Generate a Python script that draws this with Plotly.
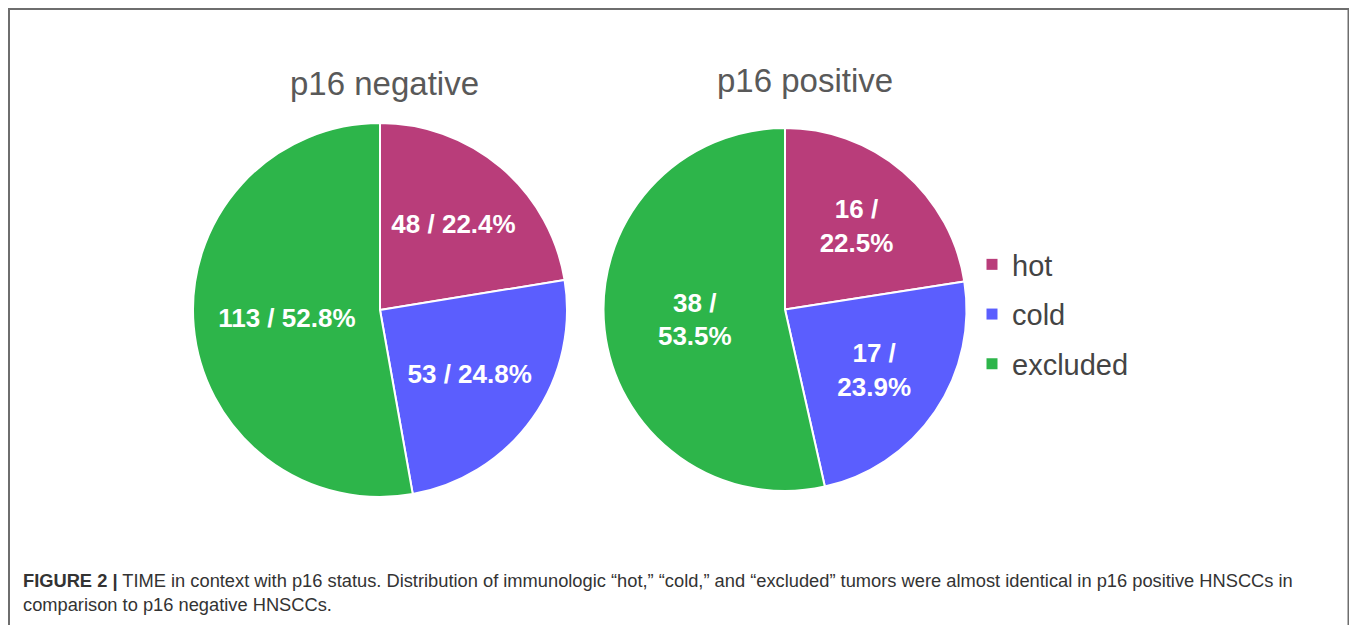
import plotly.graph_objects as go

# page has 8px body margin; coordinates below are given in screen pixels
OFF = 8
W, H = 1349, 617

categories = ["hot", "cold", "excluded"]
p16_negative = [48, 53, 113]
p16_positive = [16, 17, 38]
titles = ["p16 negative", "p16 positive"]
colors = ["#B93D7A", "#5B5EFE", "#2DB54A"]
caption = ("<b>FIGURE 2 |</b> TIME in context with p16 status. Distribution of immunologic \u201chot,\u201d \u201ccold,\u201d "
           "and \u201cexcluded\u201d tumors were almost identical in p16 positive HNSCCs in<br>"
           "comparison to p16 negative HNSCCs.")

def fx(x):
    return (x - OFF) / W

def fy(y):
    return 1 - (y - OFF) / H

def px_dom(x0, x1, y0, y1):
    return dict(x=[fx(x0), fx(x1)], y=[fy(y1), fy(y0)])

label_font = dict(family="Arial, Liberation Sans", size=26, color="white", weight="bold")

fig = go.Figure()
fig.add_trace(go.Pie(
    labels=categories, values=p16_negative, sort=False, direction="clockwise", rotation=0,
    marker=dict(colors=colors, line=dict(color="white", width=2)),
    texttemplate="%{value} / %{percent:.1%}", textposition="inside",
    insidetextorientation="horizontal", textfont=label_font,
    domain=px_dom(193, 567, 123, 497), showlegend=False, hoverinfo="label+value+percent",
))
fig.add_trace(go.Pie(
    labels=categories, values=p16_positive, sort=False, direction="clockwise", rotation=0,
    marker=dict(colors=colors, line=dict(color="white", width=2)),
    texttemplate="%{value} /<br>%{percent:.1%}", textposition="inside",
    insidetextorientation="horizontal", textfont=label_font,
    domain=px_dom(602, 968, 128, 491), showlegend=False, hoverinfo="label+value+percent",
))

# legend entries (one group per category so that the spacing can be set)
for cat, col in zip(categories, colors):
    fig.add_trace(go.Scatter(x=[None], y=[None], mode="markers", name=cat, legendgroup=cat,
                             marker=dict(symbol="square", size=11, color=col)))

for t, cx, cy in [(titles[0], 384, 83), (titles[1], 805, 80)]:
    fig.add_annotation(text=t, x=fx(cx), y=fy(cy), xref="paper", yref="paper",
                       showarrow=False, xanchor="center", yanchor="middle",
                       font=dict(family="Arial, Liberation Sans", size=33, color="#595959"))

fig.add_annotation(text=caption, x=fx(21), y=fy(568), xref="paper", yref="paper",
                   showarrow=False, xanchor="left", yanchor="top", align="left",
                   font=dict(family="Arial, Liberation Sans", size=18.3, color="#333333"))

fig.add_shape(type="rect", xref="paper", yref="paper",
              x0=fx(9), x1=fx(1348.5), y0=-0.05, y1=fy(9),
              line=dict(color="#6e6e6e", width=2), fillcolor="rgba(0,0,0,0)")

fig.update_layout(
    width=W, height=H, margin=dict(l=0, r=0, t=0, b=0),
    paper_bgcolor="white", plot_bgcolor="white",
    xaxis=dict(visible=False), yaxis=dict(visible=False),
    legend=dict(x=fx(972), y=fy(239), xanchor="left", yanchor="top",
                font=dict(family="Arial, Liberation Sans", size=29, color="#444444"),
                bgcolor="rgba(0,0,0,0)", tracegroupgap=9),
)

fig.write_html("out.html")
